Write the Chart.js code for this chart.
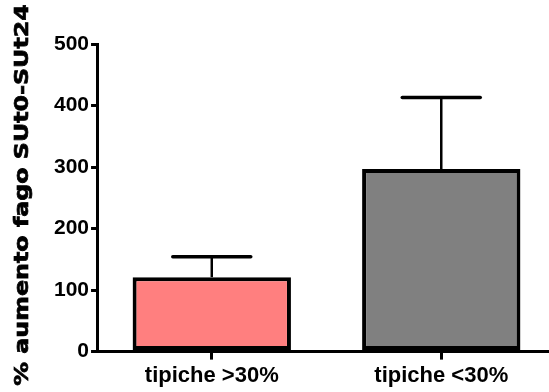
<!DOCTYPE html>
<html>
<head>
<meta charset="utf-8">
<script src="https://cdn.jsdelivr.net/npm/chart.js@4/dist/chart.umd.min.js"></script>
<style>
html,body{margin:0;padding:0;background:#fff;overflow:hidden;}
#wrap{width:549px;height:392px;position:relative;overflow:hidden;}
canvas{display:block;}
</style>
</head>
<body>
<div id="wrap"><canvas id="c" width="556" height="392"></canvas></div>
<script>
const categories = ['tipiche >30%', 'tipiche <30%'];
const means = [121, 297];
const upperErrors = [154, 413];
const yTicks = [0, 100, 200, 300, 400, 500];
const barColors = ['#FF7F7F', '#808080'];
const yTitle = '% aumento fago SUt0-SUt24';

const errorBarPlugin = {
  id: 'errorBars',
  afterDatasetsDraw(chart) {
    const ctx = chart.ctx;
    const meta = chart.getDatasetMeta(0);
    const y = chart.scales.y;
    ctx.save();
    ctx.strokeStyle = '#000';
    meta.data.forEach((bar, i) => {
      const x = bar.x;
      const yTop = y.getPixelForValue(upperErrors[i]);
      const yBar = y.getPixelForValue(means[i]);
      ctx.lineWidth = 2.5;
      ctx.beginPath();
      ctx.moveTo(x, yBar);
      ctx.lineTo(x, yTop);
      ctx.stroke();
      ctx.lineWidth = 3.5;
      ctx.lineCap = 'round';
      ctx.beginPath();
      ctx.moveTo(x - 39, yTop);
      ctx.lineTo(x + 39, yTop);
      ctx.stroke();
    });
    ctx.restore();
  }
};

const yTitlePlugin = {
  id: 'yTitle',
  afterDraw(chart) {
    const ctx = chart.ctx;
    ctx.save();
    ctx.translate(23, 195);
    ctx.rotate(-Math.PI / 2);
    ctx.scale(1.25, 1);
    ctx.fillStyle = '#000';
    ctx.strokeStyle = '#000';
    ctx.lineWidth = 0.7;
    ctx.font = 'bold 19px "DejaVu Sans"';
    ctx.textAlign = 'center';
    ctx.textBaseline = 'middle';
    ctx.fillText(yTitle, 0, 0);
    ctx.strokeText(yTitle, 0, 0);
    ctx.restore();
  }
};

new Chart(document.getElementById('c'), {
  type: 'bar',
  data: {
    labels: categories,
    datasets: [{
      data: means,
      backgroundColor: barColors,
      borderColor: '#000',
      borderWidth: 4,
      borderSkipped: false,
      barPercentage: 0.69,
      categoryPercentage: 1.0
    }]
  },
  options: {
    responsive: false,
    animation: false,
    layout: { padding: { top: 44, right: 0, left: 52, bottom: 0 } },
    plugins: { legend: { display: false }, tooltip: { enabled: false } },
    scales: {
      x: {
        offset: true,
        grid: { display: true, offset: false, drawOnChartArea: false, drawTicks: true, tickLength: 8, lineWidth: 3, color: '#000' },
        border: { display: true, color: '#000', width: 3 },
        ticks: { color: '#000', padding: 3, font: { family: 'Liberation Sans', weight: 'bold', size: 22 }, maxRotation: 0 }
      },
      y: {
        min: 0,
        max: 500,
        afterBuildTicks(scale) { scale.ticks = yTicks.map(v => ({ value: v })); },
        grid: { display: true, drawOnChartArea: false, drawTicks: true, tickLength: 6, lineWidth: 3, color: '#000' },
        border: { display: true, color: '#000', width: 3 },
        ticks: { color: '#000', padding: 2, font: { family: 'Liberation Sans', weight: 'bold', size: 21 } }
      }
    }
  },
  plugins: [errorBarPlugin, yTitlePlugin]
});
</script>
</body>
</html>
